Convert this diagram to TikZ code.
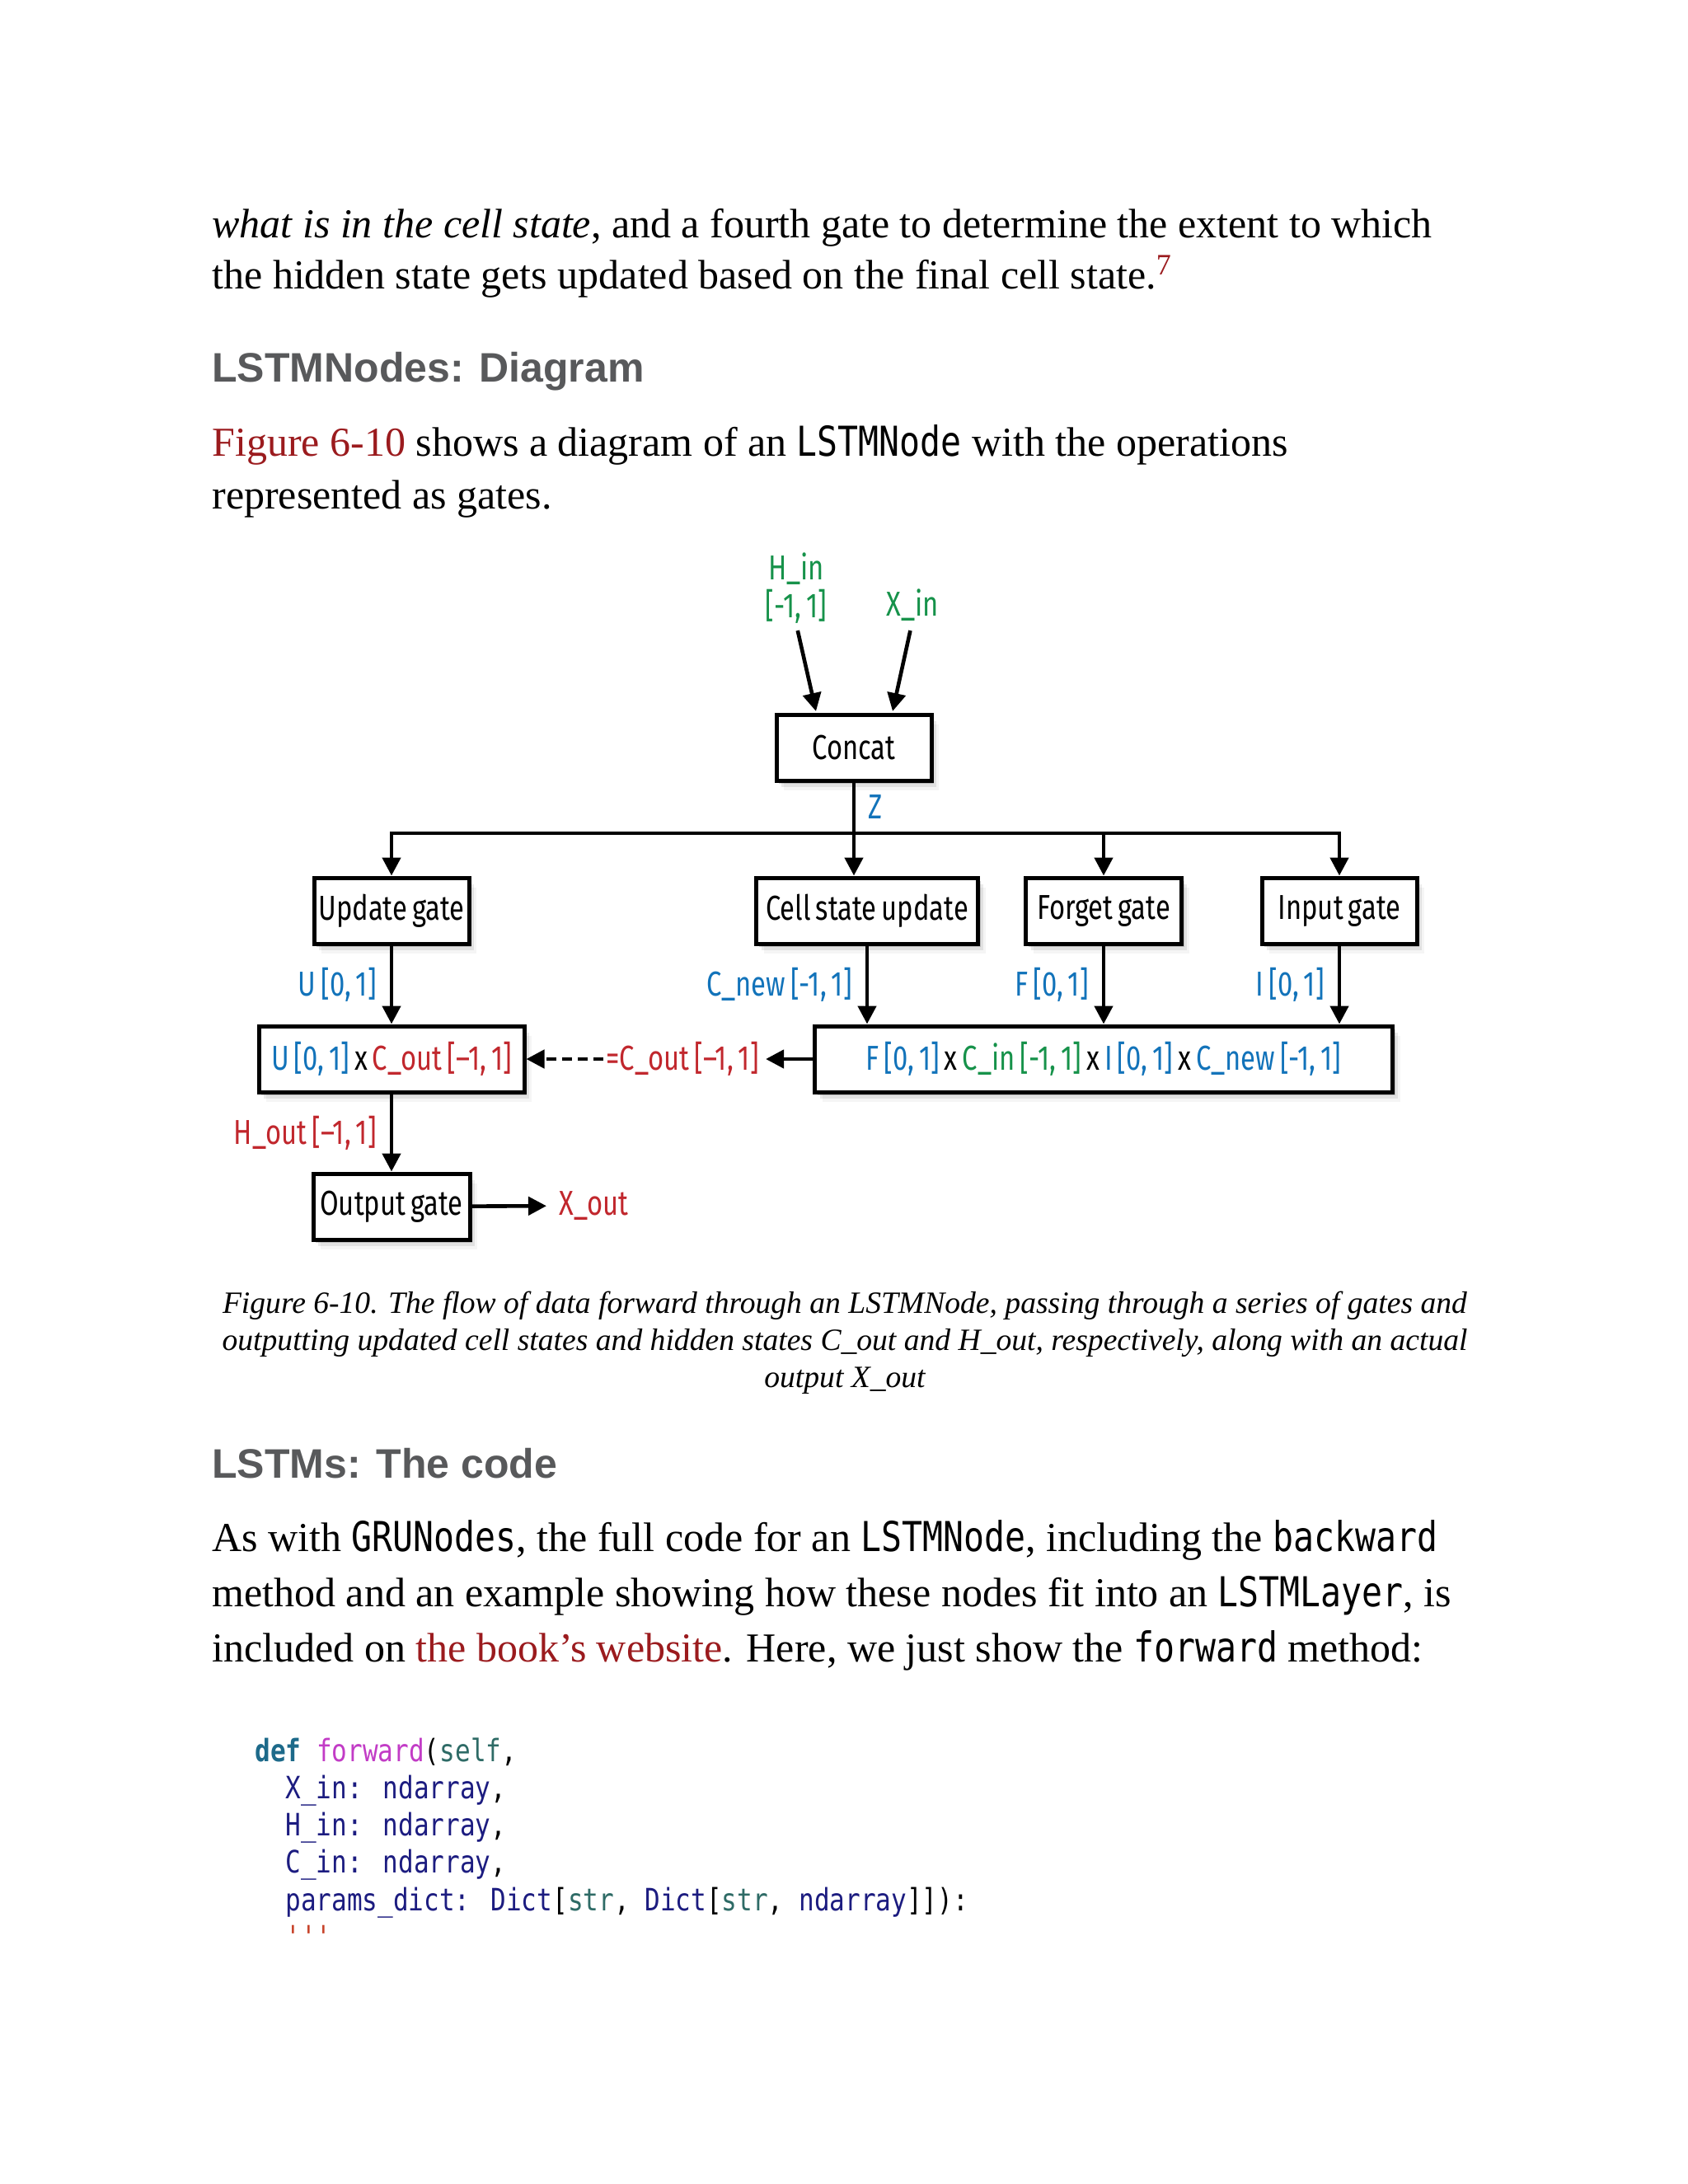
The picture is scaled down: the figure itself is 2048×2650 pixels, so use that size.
\documentclass[tikz,border=0pt]{standalone}
\usepackage{fontspec}
\setmainfont{Liberation Serif}
\newfontfamily\myHfont{Liberation Sans}
\newfontfamily\myDfont{Fira Sans}[FakeStretch=0.78, WordSpace=0.7]
\newfontfamily\myMfont{DejaVu Sans Mono}[FakeStretch=0.83]
\usetikzlibrary{arrows.meta,shadows,calc}
\definecolor{linkred}{HTML}{9B1B1E}
\definecolor{headgray}{HTML}{58595B}
\definecolor{dblue}{HTML}{1273BA}
\definecolor{dgreen}{HTML}{16924A}
\definecolor{dred}{HTML}{C1272D}
\definecolor{ckw}{HTML}{1D6A8A}
\definecolor{cfn}{HTML}{C23CC6}
\definecolor{cself}{HTML}{2E6B66}
\definecolor{cname}{HTML}{1C1C80}
\definecolor{cstr}{HTML}{C8442B}
\newcommand{\myBody}{\fontsize{25}{31}\selectfont}
\newcommand{\myCap}{\fontsize{18.8}{23}\selectfont\itshape}
\newcommand{\myHead}{\myHfont\bfseries\fontsize{25}{30}\selectfont\color{headgray}}
\newcommand{\myDia}{\myDfont\fontsize{21}{23}\selectfont}
\newcommand{\inlc}[1]{{\myMfont\fontsize{25}{30}\selectfont #1}}
\newcommand{\myCode}{\myMfont\fontsize{18.7}{22}\selectfont}
\tikzset{
  txt/.style={anchor=base west, inner sep=0pt, font=\myBody},
  head/.style={anchor=base west, inner sep=0pt, font=\myHead},
  captxt/.style={anchor=base, inner sep=0pt, font=\myCap},
  codetxt/.style={anchor=base west, inner sep=0pt, font=\myCode},
  softshadow/.style={
    drop shadow={shadow xshift=1.5pt, shadow yshift=-2pt, opacity=.16, fill=black},
    drop shadow={shadow xshift=3pt, shadow yshift=-4pt, opacity=.08, fill=black},
    drop shadow={shadow xshift=4.5pt, shadow yshift=-6pt, opacity=.04, fill=black}},
  gate/.style={draw, line width=2.5pt, fill=white, inner sep=0pt, minimum height=40pt, font=\myDia, softshadow},
  lab/.style={inner sep=0pt, font=\myDia},
  arr/.style={line width=2.3pt, -{Triangle[length=11pt,width=11pt]}},
}
\begin{document}
\begin{tikzpicture}[x=0.5pt, y=-0.5pt]
\fill[white] (0,0) rectangle (2048,2650);
\useasboundingbox (0,0) rectangle (2048,2650);

% ---- text above
\node[txt] (t1) at (257,288) {\textit{what is in the cell state}, and a fourth gate to determine the extent to which};
\node[txt] (t2) at (257,350) {the hidden state gets updated based on the final cell state.\raisebox{8.5pt}{\fontsize{18}{18}\selectfont\color{linkred}7}};
\node[head] (h1) at (257,463) {LSTMNodes: Diagram};
\node[txt] (t3) at (257,553) {{\color{linkred}Figure 6-10} shows a diagram of an \inlc{LSTMNode} with the operations};
\node[txt] (t4) at (257,617) {represented as gates.};

% ---- diagram
\node[lab, text=dgreen, align=center] (hin) at (966,714) {H\_in\\{[-1, 1]}};
\node[lab, text=dgreen, anchor=base] (xin) at (1107,747) {X\_in};
\node[gate, minimum width=94pt] (concat) at (1036,907) {Concat};
\coordinate (cin1) at (990,863);
\coordinate (cin2) at (1083,863);
\draw[arr, shorten <=4pt] (hin.south) -- (cin1);
\draw[arr, shorten <=6pt] (xin.south) -- (cin2);

\node[gate, minimum width=94pt] (upd) at (475,1105) {Update gate};
\node[gate, minimum width=134.5pt] (cell) at (1052,1105) {Cell state update};
\node[gate, minimum width=94.5pt] (forget) at (1339,1105) {Forget gate};
\node[gate, minimum width=94pt] (inp) at (1625,1105) {Input gate};

\node[gate, minimum width=161pt] (mult) at (475,1285) {{\color{dblue}U [0, 1]} x {\color{dred}C\_out [–1, 1]}};
\node[gate, minimum width=350.5pt] (comb) at (1339,1285) {{\color{dblue}F [0, 1]} x {\color{dgreen}C\_in [-1, 1]} x {\color{dblue}I [0, 1]} x {\color{dblue}C\_new [-1, 1]}};
\node[gate, minimum width=95pt] (outg) at (475,1464) {Output gate};

\node[lab, text=dblue, anchor=base west] (zl) at (1053,993) {Z};
\draw[arr] (concat.south) -- (concat.south |- cell.north);

\coordinate (bl) at (475,1011);
\coordinate (br) at (1625,1011);
\draw[line width=2.3pt, line cap=rect] (bl) -- (br);
\draw[arr] (bl) -- (upd.north);
\draw[arr] (br) -- (inp.north);
\draw[arr] (forget.north |- bl) -- (forget.north);

\draw[arr] (upd) -- node[lab, left=8pt, text=dblue] {U [0, 1]} (mult);
\draw[arr] (cell.south) -- node[lab, left=8pt, text=dblue] {C\_new [-1, 1]} (cell.south |- comb.north);
\draw[arr] (forget) -- node[lab, left=8pt, text=dblue] {F [0, 1]} (forget |- comb.north);
\draw[arr] (inp) -- node[lab, left=8pt, text=dblue] {I [0, 1]} (inp |- comb.north);

\node[lab, text=dred] (cout) at (828,1285) {=C\_out [–1, 1]};
\draw[arr, shorten >=4pt] (comb) -- (cout);
\draw[arr, dash pattern=on 6pt off 3.5pt, shorten <=1.5pt] (cout) -- (mult);

\draw[arr] (mult) -- node[lab, left=8pt, text=dred] {H\_out [–1, 1]} (outg);
\node[lab, text=dred, anchor=west] (xout) at (678,1463) {X\_out};
\draw[arr, shorten >=7.5pt] (outg) -- (xout);

% ---- caption
\node[captxt] (c1) at (1025,1593) {Figure 6-10. The flow of data forward through an LSTMNode, passing through a series of gates and};
\node[captxt] (c2) at (1025,1638) {outputting updated cell states and hidden states C\_out and H\_out, respectively, along with an actual};
\node[captxt] (c3) at (1025,1683) {output X\_out};

% ---- section 2
\node[head] (h2) at (257,1793) {LSTMs: The code};
\node[txt] (p1) at (257,1882) {As with \inlc{GRUNodes}, the full code for an \inlc{LSTMNode}, including the \inlc{backward}};
\node[txt] (p2) at (257,1949) {method and an example showing how these nodes fit into an \inlc{LSTMLayer}, is};
\node[txt] (p3) at (257,2016) {included on {\color{linkred}the book’s website}. Here, we just show the \inlc{forward} method:};

% ---- code
\node[codetxt] (k1) at (309,2137) {{\bfseries\color{ckw}def} {\color{cfn}forward}({\color{cself}self},};
\node[codetxt] (k2) at (346,2182) {{\color{cname}X\_in: ndarray},};
\node[codetxt] (k3) at (346,2227) {{\color{cname}H\_in: ndarray},};
\node[codetxt] (k4) at (346,2272) {{\color{cname}C\_in: ndarray},};
\node[codetxt] (k5) at (346,2318) {{\color{cname}params\_dict: Dict}[{\color{cself}str}, {\color{cname}Dict}[{\color{cself}str}, {\color{cname}ndarray}]]):};
\node[codetxt] (k6) at (346,2363) {{\color{cstr}\char"27\char"27\char"27}};
\end{tikzpicture}
\end{document}
